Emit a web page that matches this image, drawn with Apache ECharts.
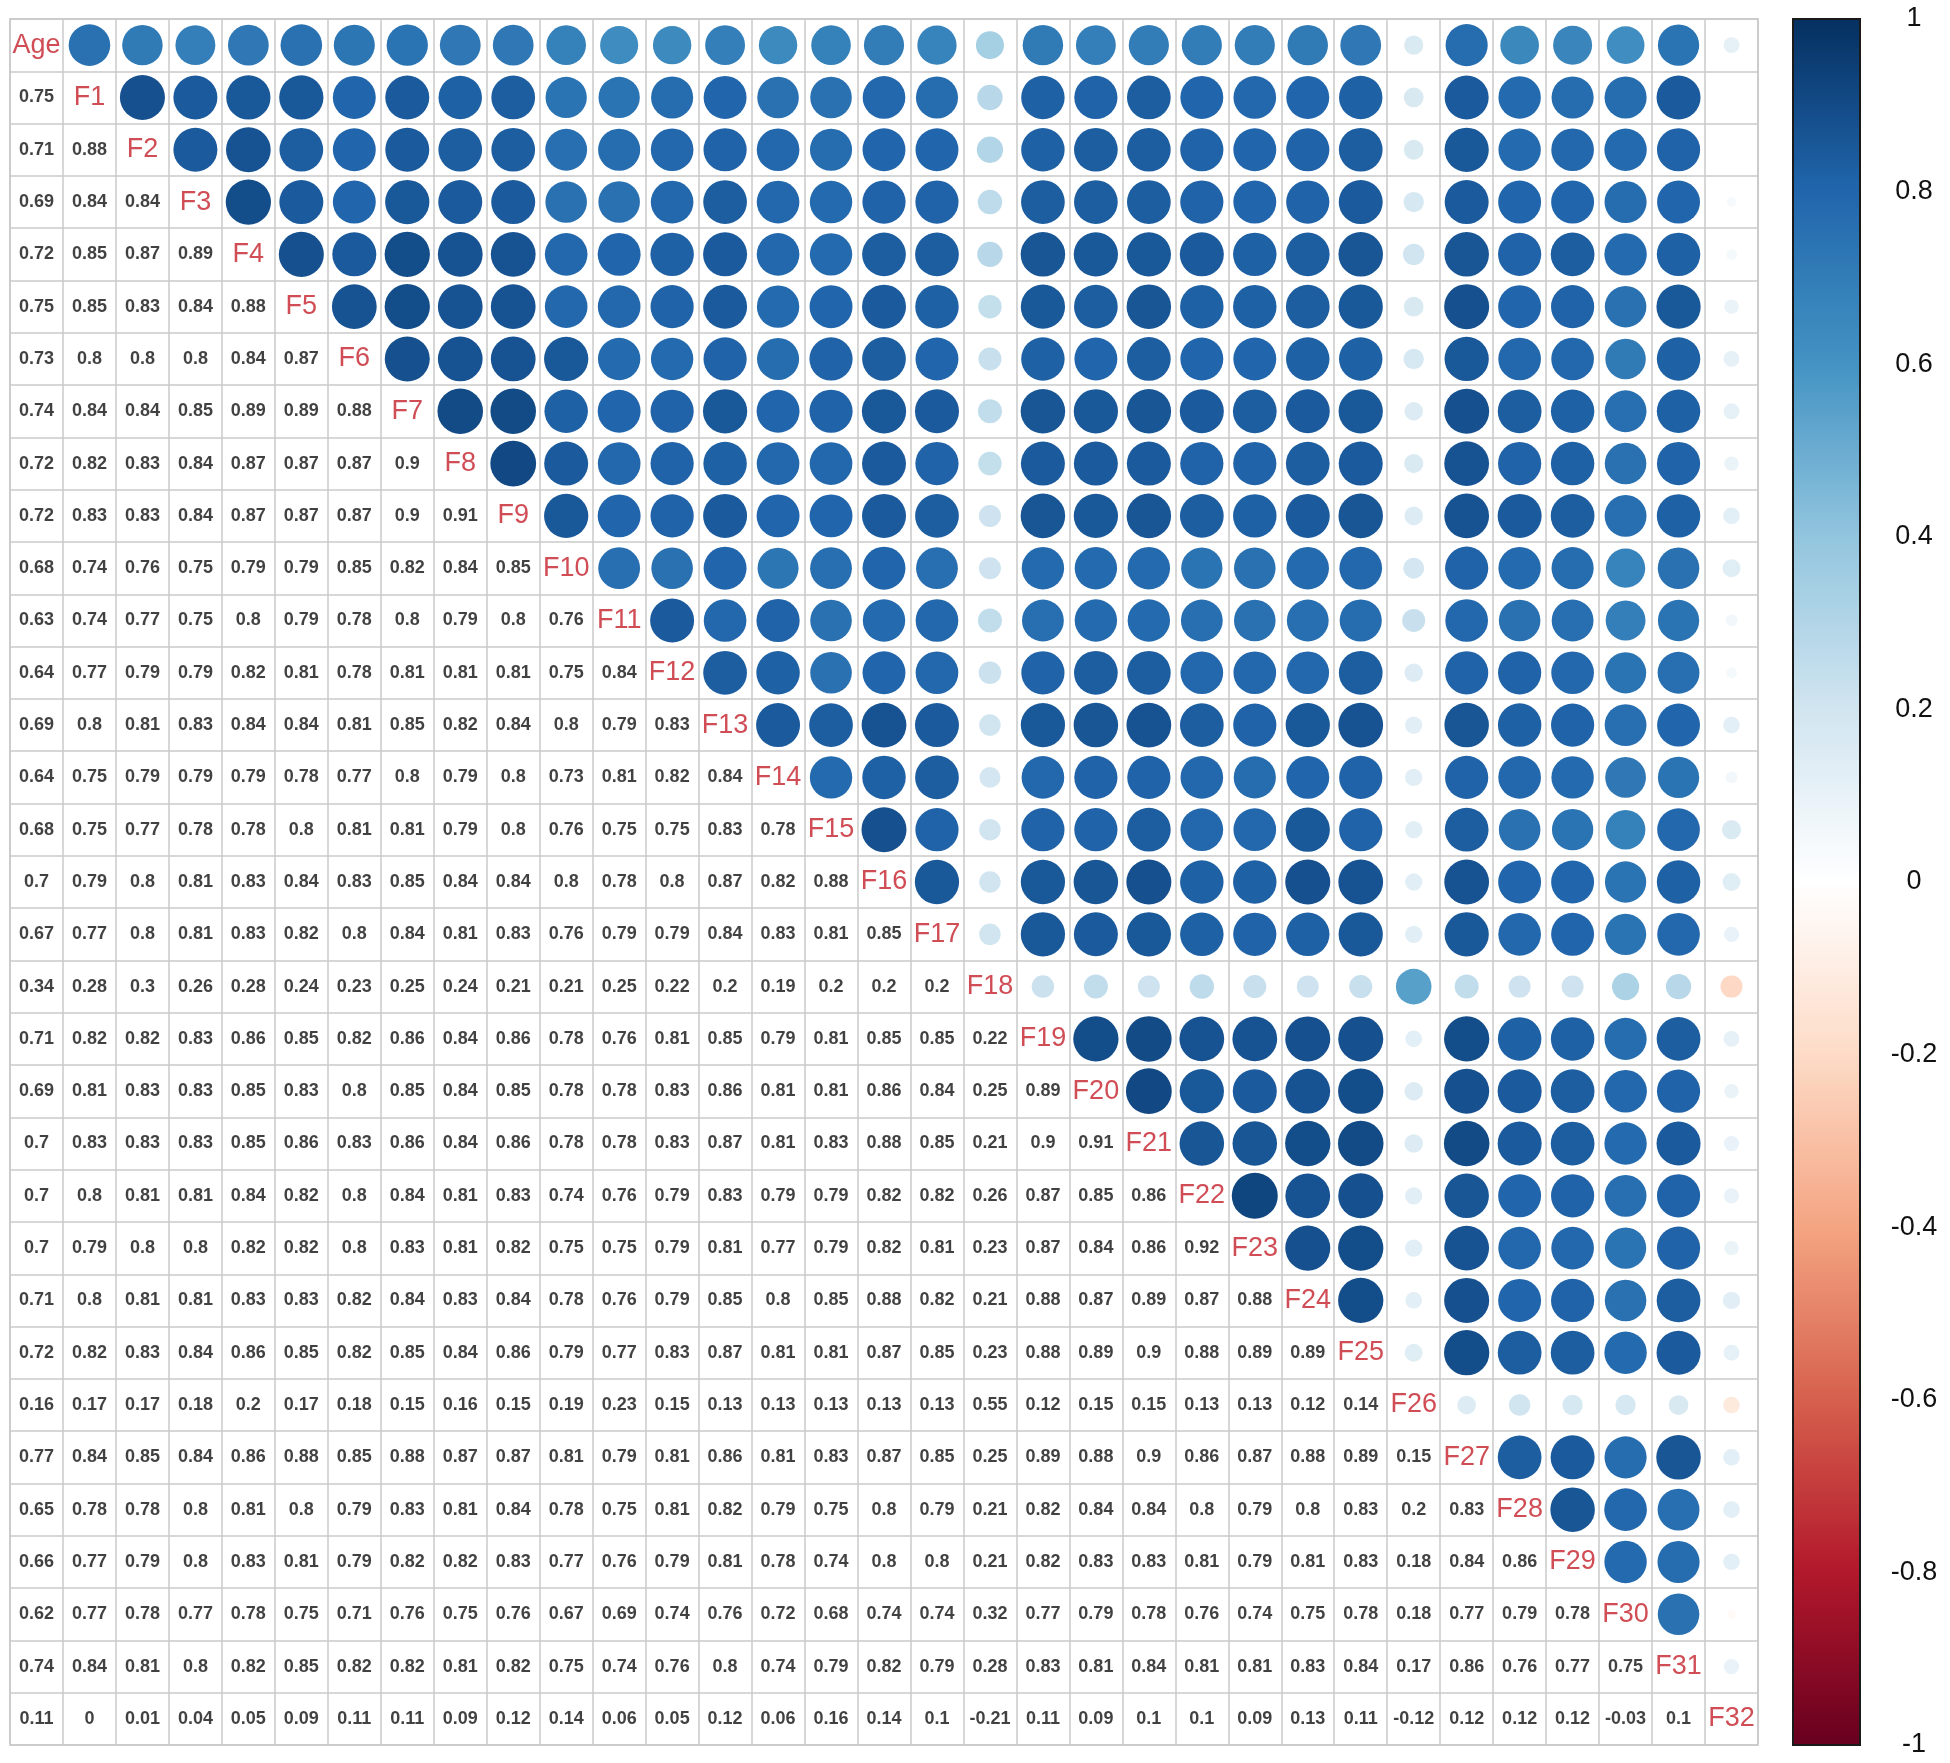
<!DOCTYPE html>
<html>
<head>
<meta charset="utf-8">
<title>Correlation matrix</title>
<script src="https://cdn.jsdelivr.net/npm/echarts@6/dist/echarts.min.js"></script>
<style>
html, body { margin: 0; padding: 0; background: #fff; }
#main { width: 1950px; height: 1763px; }
</style>
</head>
<body>
<div id="main"></div>
<script>
// variable names, top row / left column first
var vars = ['Age', 'F1', 'F2', 'F3', 'F4', 'F5', 'F6', 'F7', 'F8', 'F9', 'F10',
	'F11', 'F12', 'F13', 'F14', 'F15', 'F16', 'F17', 'F18', 'F19', 'F20',
	'F21', 'F22', 'F23', 'F24', 'F25', 'F26', 'F27', 'F28', 'F29', 'F30', 'F31', 'F32'];

// lower triangle, one row per variable (columns Age, F1, ... up to the diagonal)
var rF1 = [0.75];
var rF2 = [0.71, 0.88];
var rF3 = [0.69, 0.84, 0.84];
var rF4 = [0.72, 0.85, 0.87, 0.89];
var rF5 = [0.75, 0.85, 0.83, 0.84, 0.88];
var rF6 = [0.73, 0.8, 0.8, 0.8, 0.84, 0.87];
var rF7 = [0.74, 0.84, 0.84, 0.85, 0.89, 0.89, 0.88];
var rF8 = [0.72, 0.82, 0.83, 0.84, 0.87, 0.87, 0.87, 0.9];
var rF9 = [0.72, 0.83, 0.83, 0.84, 0.87, 0.87, 0.87, 0.9, 0.91];
var rF10 = [0.68, 0.74, 0.76, 0.75, 0.79, 0.79, 0.85, 0.82, 0.84, 0.85];
var rF11 = [0.63, 0.74, 0.77, 0.75, 0.8, 0.79, 0.78, 0.8, 0.79, 0.8, 0.76];
var rF12 = [0.64, 0.77, 0.79, 0.79, 0.82, 0.81, 0.78, 0.81, 0.81, 0.81, 0.75, 0.84];
var rF13 = [0.69, 0.8, 0.81, 0.83, 0.84, 0.84, 0.81, 0.85, 0.82, 0.84, 0.8, 0.79, 0.83];
var rF14 = [0.64, 0.75, 0.79, 0.79, 0.79, 0.78, 0.77, 0.8, 0.79, 0.8, 0.73, 0.81, 0.82, 0.84];
var rF15 = [0.68, 0.75, 0.77, 0.78, 0.78, 0.8, 0.81, 0.81, 0.79, 0.8, 0.76, 0.75, 0.75, 0.83, 0.78];
var rF16 = [0.7, 0.79, 0.8, 0.81, 0.83, 0.84, 0.83, 0.85, 0.84, 0.84, 0.8, 0.78, 0.8, 0.87, 0.82, 0.88];
var rF17 = [0.67, 0.77, 0.8, 0.81, 0.83, 0.82, 0.8, 0.84, 0.81, 0.83, 0.76, 0.79, 0.79, 0.84, 0.83, 0.81, 0.85];
var rF18 = [0.34, 0.28, 0.3, 0.26, 0.28, 0.24, 0.23, 0.25, 0.24, 0.21, 0.21, 0.25, 0.22, 0.2, 0.19, 0.2, 0.2, 0.2];
var rF19 = [0.71, 0.82, 0.82, 0.83, 0.86, 0.85, 0.82, 0.86, 0.84, 0.86, 0.78, 0.76, 0.81, 0.85, 0.79, 0.81, 0.85, 0.85, 0.22];
var rF20 = [0.69, 0.81, 0.83, 0.83, 0.85, 0.83, 0.8, 0.85, 0.84, 0.85, 0.78, 0.78, 0.83, 0.86, 0.81, 0.81, 0.86, 0.84, 0.25, 0.89];
var rF21 = [0.7, 0.83, 0.83, 0.83, 0.85, 0.86, 0.83, 0.86, 0.84, 0.86, 0.78, 0.78, 0.83, 0.87, 0.81, 0.83, 0.88, 0.85, 0.21, 0.9, 0.91];
var rF22 = [0.7, 0.8, 0.81, 0.81, 0.84, 0.82, 0.8, 0.84, 0.81, 0.83, 0.74, 0.76, 0.79, 0.83, 0.79, 0.79, 0.82, 0.82, 0.26, 0.87, 0.85, 0.86];
var rF23 = [0.7, 0.79, 0.8, 0.8, 0.82, 0.82, 0.8, 0.83, 0.81, 0.82, 0.75, 0.75, 0.79, 0.81, 0.77, 0.79, 0.82, 0.81, 0.23, 0.87, 0.84, 0.86, 0.92];
var rF24 = [0.71, 0.8, 0.81, 0.81, 0.83, 0.83, 0.82, 0.84, 0.83, 0.84, 0.78, 0.76, 0.79, 0.85, 0.8, 0.85, 0.88, 0.82, 0.21, 0.88, 0.87, 0.89, 0.87, 0.88];
var rF25 = [0.72, 0.82, 0.83, 0.84, 0.86, 0.85, 0.82, 0.85, 0.84, 0.86, 0.79, 0.77, 0.83, 0.87, 0.81, 0.81, 0.87, 0.85, 0.23, 0.88, 0.89, 0.9, 0.88, 0.89, 0.89];
var rF26 = [0.16, 0.17, 0.17, 0.18, 0.2, 0.17, 0.18, 0.15, 0.16, 0.15, 0.19, 0.23, 0.15, 0.13, 0.13, 0.13, 0.13, 0.13, 0.55, 0.12, 0.15, 0.15, 0.13, 0.13, 0.12, 0.14];
var rF27 = [0.77, 0.84, 0.85, 0.84, 0.86, 0.88, 0.85, 0.88, 0.87, 0.87, 0.81, 0.79, 0.81, 0.86, 0.81, 0.83, 0.87, 0.85, 0.25, 0.89, 0.88, 0.9, 0.86, 0.87, 0.88, 0.89, 0.15];
var rF28 = [0.65, 0.78, 0.78, 0.8, 0.81, 0.8, 0.79, 0.83, 0.81, 0.84, 0.78, 0.75, 0.81, 0.82, 0.79, 0.75, 0.8, 0.79, 0.21, 0.82, 0.84, 0.84, 0.8, 0.79, 0.8, 0.83, 0.2, 0.83];
var rF29 = [0.66, 0.77, 0.79, 0.8, 0.83, 0.81, 0.79, 0.82, 0.82, 0.83, 0.77, 0.76, 0.79, 0.81, 0.78, 0.74, 0.8, 0.8, 0.21, 0.82, 0.83, 0.83, 0.81, 0.79, 0.81, 0.83, 0.18, 0.84, 0.86];
var rF30 = [0.62, 0.77, 0.78, 0.77, 0.78, 0.75, 0.71, 0.76, 0.75, 0.76, 0.67, 0.69, 0.74, 0.76, 0.72, 0.68, 0.74, 0.74, 0.32, 0.77, 0.79, 0.78, 0.76, 0.74, 0.75, 0.78, 0.18, 0.77, 0.79, 0.78];
var rF31 = [0.74, 0.84, 0.81, 0.8, 0.82, 0.85, 0.82, 0.82, 0.81, 0.82, 0.75, 0.74, 0.76, 0.8, 0.74, 0.79, 0.82, 0.79, 0.28, 0.83, 0.81, 0.84, 0.81, 0.81, 0.83, 0.84, 0.17, 0.86, 0.76, 0.77, 0.75];
var rF32 = [0.11, 0, 0.01, 0.04, 0.05, 0.09, 0.11, 0.11, 0.09, 0.12, 0.14, 0.06, 0.05, 0.12, 0.06, 0.16, 0.14, 0.1, -0.21, 0.11, 0.09, 0.1, 0.1, 0.09, 0.13, 0.11, -0.12, 0.12, 0.12, 0.12, -0.03, 0.1];

var lowerRows = [null, rF1, rF2, rF3, rF4, rF5, rF6, rF7, rF8, rF9, rF10, rF11, rF12, rF13, rF14, rF15, rF16,
	rF17, rF18, rF19, rF20, rF21, rF22, rF23, rF24, rF25, rF26, rF27, rF28, rF29, rF30, rF31, rF32];

// RdBu palette, -1 .. 1
var rdbu = ['#67001F', '#B2182B', '#D6604D', '#F4A582', '#FDDBC7', '#FFFFFF',
	'#D1E5F0', '#92C5DE', '#4393C3', '#2166AC', '#053061'];

var circles = [];
var numbers = [];
var diag = [];
for (var i = 0; i < vars.length; i++) {
	diag.push({value: [i, i], name: vars[i]});
	for (var j = 0; j < i; j++) {
		var v = lowerRows[i][j];
		numbers.push([j, i, v]);      // below diagonal: text
		circles.push([i, j, v]);      // mirrored above diagonal: circle
	}
}

var myChart = echarts.init(document.getElementById('main'));
var option = {
	backgroundColor: '#fff',
	animation: false,
	grid: [
		{left: 10, top: 19, width: 1748, height: 1726, show: true, borderColor: '#c4c4c4', borderWidth: 1.5},
		{left: 1793, top: 19, width: 67, height: 1726, show: true, borderColor: '#1a1a1a', borderWidth: 2, z: 10}
	],
	xAxis: [
		{
			type: 'category', data: vars, gridIndex: 0, boundaryGap: true,
			axisLine: {show: false}, axisTick: {show: false}, axisLabel: {show: false},
			splitLine: {show: true, interval: 0, lineStyle: {color: '#cacaca', width: 1.5}}
		},
		{type: 'value', gridIndex: 1, show: false, min: 0, max: 1}
	],
	yAxis: [
		{
			type: 'category', data: vars, gridIndex: 0, boundaryGap: true, inverse: true,
			axisLine: {show: false}, axisTick: {show: false}, axisLabel: {show: false},
			splitLine: {show: true, interval: 0, lineStyle: {color: '#cacaca', width: 1.5}}
		},
		{
			type: 'value', gridIndex: 1, position: 'right', min: -1, max: 1, interval: 0.2,
			axisLine: {show: true, lineStyle: {color: '#1a1a1a', width: 2}},
			axisTick: {show: true, length: 10, lineStyle: {color: '#1a1a1a', width: 2}},
			axisLabel: {fontSize: 27, color: '#111', margin: 54, align: 'center', fontFamily: 'Liberation Sans'},
			splitLine: {show: false}
		}
	],
	visualMap: {
		type: 'continuous',
		min: -1,
		max: 1,
		dimension: 2,
		seriesIndex: 0,
		calculable: false,
		left: 1793,
		top: 19,
		padding: 0,
		itemWidth: 67,
		itemHeight: 1726,
		inRange: {color: rdbu}
	},
	series: [
		{
			name: 'circles',
			type: 'scatter',
			xAxisIndex: 0,
			yAxisIndex: 0,
			symbol: 'circle',
			symbolSize: function (val) {
				return 48 * Math.sqrt(Math.abs(val[2]));
			},
			itemStyle: {borderWidth: 0, opacity: 1},
			data: circles
		},
		{
			name: 'numbers',
			type: 'scatter',
			xAxisIndex: 0,
			yAxisIndex: 0,
			symbolSize: 0,
			label: {
				show: true,
				position: 'inside',
				color: '#111',
				fontSize: 18,
				fontWeight: 'bold',
				fontFamily: 'Liberation Sans',
				formatter: function (p) { return String(p.value[2]); }
			},
			data: numbers
		},
		{
			name: 'diag',
			type: 'scatter',
			xAxisIndex: 0,
			yAxisIndex: 0,
			symbolSize: 0,
			label: {
				show: true,
				position: 'inside',
				color: '#c4202b',
				fontSize: 27,
				fontFamily: 'Liberation Sans',
				formatter: '{b}'
			},
			data: diag
		}
	]
};
myChart.setOption(option);
</script>
</body>
</html>
